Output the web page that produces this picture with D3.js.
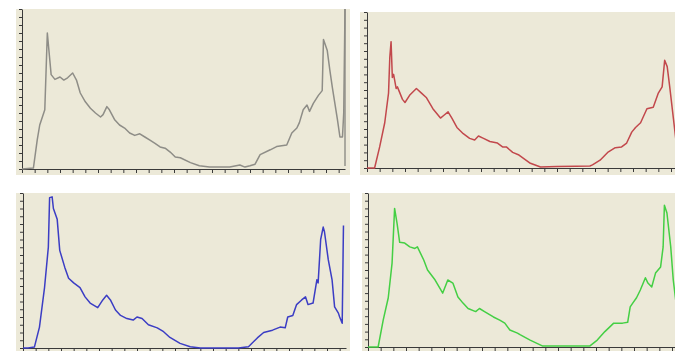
<!DOCTYPE html>
<html>
<head>
<meta charset="utf-8">
<script src="https://cdn.jsdelivr.net/npm/d3@7"></script>
<style>
  html, body { margin: 0; padding: 0; background: #fff; }
  svg { display: block; }
</style>
</head>
<body>
<svg id="chart" width="675" height="351"></svg>
<script>
// histogram samples: [bin, relative count]
const grayHist = [
  [0, 0], [9, 0.006], [12, 0.18], [14, 0.275], [18, 0.37], [20, 0.85], [23, 0.59], [26, 0.56],
  [30, 0.575], [33, 0.556], [36, 0.57], [40, 0.6], [43, 0.556], [46, 0.475], [50, 0.42],
  [54, 0.38], [58, 0.35], [62, 0.325], [64, 0.34], [67, 0.39], [69, 0.37], [73, 0.31],
  [77, 0.275], [81, 0.256], [85, 0.225], [89, 0.21], [93, 0.22], [97, 0.2], [101, 0.18],
  [105, 0.16], [109, 0.138], [113, 0.13], [117, 0.106], [121, 0.075], [125, 0.07],
  [133, 0.04], [140, 0.02], [148, 0.012], [156, 0.012], [164, 0.012], [172, 0.025],
  [176, 0.012], [180, 0.02], [184, 0.03], [188, 0.09], [196, 0.12], [201, 0.14], [209, 0.15],
  [213, 0.225], [217, 0.256], [219, 0.29], [222, 0.37], [225, 0.4], [227, 0.36], [230, 0.41],
  [234, 0.46], [237, 0.49], [238, 0.81], [241, 0.74], [243, 0.62], [245, 0.51], [249, 0.31],
  [251, 0.2], [253, 0.2], [254, 0.35], [255, 1.0]
];
const redHist = [
  [0, 0], [6, 0], [10, 0.135], [14, 0.29], [17, 0.48], [18, 0.71], [19, 0.81], [20, 0.58],
  [21, 0.6], [23, 0.51], [24, 0.52], [28, 0.44], [30, 0.42], [34, 0.47], [39, 0.51],
  [43, 0.48], [47, 0.45], [52, 0.38], [58, 0.32], [61, 0.34], [64, 0.36], [67, 0.32],
  [71, 0.26], [76, 0.22], [81, 0.19], [85, 0.18], [88, 0.205], [92, 0.19], [97, 0.17],
  [103, 0.16], [107, 0.135], [110, 0.135], [115, 0.1], [120, 0.083], [129, 0.03],
  [137, 0.006], [150, 0.01], [165, 0.012], [176, 0.013], [178, 0.02], [184, 0.05], [190, 0.1],
  [196, 0.13], [201, 0.135], [205, 0.16], [209, 0.23], [212, 0.26], [216, 0.29], [221, 0.38],
  [226, 0.39], [230, 0.48], [233, 0.52], [235, 0.69], [237, 0.65], [239, 0.52], [242, 0.31],
  [245, 0.1]
];
const blueHist = [
  [0, 0], [4, 0], [9, 0.006], [13, 0.135], [17, 0.39], [20, 0.65], [21, 0.97], [23, 0.975],
  [24, 0.9], [27, 0.83], [29, 0.63], [33, 0.52], [36, 0.45], [40, 0.42], [45, 0.39],
  [49, 0.33], [53, 0.29], [59, 0.26], [63, 0.31], [66, 0.34], [69, 0.31], [73, 0.245],
  [77, 0.21], [82, 0.19], [87, 0.18], [90, 0.2], [94, 0.19], [99, 0.15], [106, 0.13],
  [111, 0.105], [116, 0.068], [124, 0.03], [132, 0.008], [140, 0], [170, 0], [178, 0.008],
  [185, 0.065], [190, 0.1], [197, 0.115], [203, 0.135], [207, 0.13], [209, 0.2], [213, 0.21],
  [216, 0.28], [220, 0.31], [223, 0.33], [225, 0.28], [229, 0.29], [232, 0.44], [233, 0.42],
  [235, 0.7], [237, 0.78], [238, 0.75], [241, 0.57], [244, 0.44], [246, 0.265], [249, 0.225],
  [250, 0.2], [252, 0.16], [253, 0.79]
];
const greenHist = [
  [0, 0], [8, 0], [12, 0.175], [16, 0.32], [19, 0.545], [21, 0.9], [23, 0.8], [25, 0.68],
  [29, 0.675], [33, 0.65], [37, 0.64], [39, 0.65], [44, 0.565], [47, 0.5], [53, 0.435],
  [59, 0.35], [63, 0.435], [67, 0.415], [71, 0.325], [75, 0.285], [79, 0.25], [85, 0.23],
  [88, 0.25], [92, 0.23], [99, 0.195], [104, 0.175], [108, 0.155], [112, 0.11], [118, 0.09],
  [120, 0.08], [128, 0.045], [138, 0.006], [175, 0.006], [181, 0.045], [187, 0.1],
  [194, 0.155], [201, 0.155], [205, 0.16], [207, 0.26], [209, 0.285], [212, 0.32],
  [215, 0.37], [219, 0.45], [221, 0.415], [224, 0.39], [227, 0.48], [231, 0.52], [233, 0.65],
  [234, 0.92], [236, 0.87], [239, 0.65], [241, 0.435], [243, 0.3]
];

const binDomain = [0, 255];
const xTickStep = 10;
const yTickCount = 20;

// panel boxes: background rect + plot area
const panels = [
  {data: grayHist,  color: "#8e8d87", bg: [16, 9, 334, 166],  plot: {x0: 22, x1: 345, y0: 169, y1: 9},   rightRule: true},
  {data: redHist,   color: "#c2484c", bg: [360, 12, 320, 163], plot: {x0: 367, x1: 690, y0: 168, y1: 12}, rightRule: false},
  {data: blueHist,  color: "#3b3dc4", bg: [16, 193, 334, 158], plot: {x0: 23, x1: 346, y0: 348, y1: 193}, rightRule: false},
  {data: greenHist, color: "#44cf44", bg: [362, 193, 318, 158], plot: {x0: 368, x1: 691, y0: 347, y1: 193}, rightRule: false}
];

const svg = d3.select("#chart");

panels.forEach((p, i) => {
  const g = svg.append("g");
  const [bx, by, bw, bh] = p.bg;

  g.append("rect")
    .attr("x", bx).attr("y", by)
    .attr("width", bw).attr("height", bh)
    .attr("fill", "#ece9d8");

  const x = d3.scaleLinear().domain(binDomain).range([p.plot.x0, p.plot.x1]);
  const y = d3.scaleLinear().domain([0, 1]).range([p.plot.y0, p.plot.y1]);

  const clipId = "clip" + i;
  g.append("clipPath").attr("id", clipId)
    .append("rect")
    .attr("x", p.plot.x0).attr("y", p.plot.y1)
    .attr("width", p.plot.x1 - p.plot.x0 + 1)
    .attr("height", p.plot.y0 - p.plot.y1 + 1);

  const xAxis = d3.axisBottom(x)
    .tickValues(d3.range(binDomain[0], binDomain[1] + 1, xTickStep))
    .tickSize(4).tickSizeOuter(0).tickFormat("");
  const yAxis = d3.axisLeft(y)
    .ticks(yTickCount)
    .tickSize(3).tickSizeOuter(0).tickFormat("");

  g.append("g")
    .attr("transform", `translate(0,${p.plot.y0})`)
    .call(xAxis)
    .call(a => a.selectAll("path, line").attr("stroke", "#3a3a3a"));
  g.append("g")
    .attr("transform", `translate(${p.plot.x0},0)`)
    .call(yAxis)
    .call(a => a.selectAll("path, line").attr("stroke", "#3a3a3a"));

  if (p.rightRule) {
    g.append("line")
      .attr("x1", x(binDomain[1])).attr("x2", x(binDomain[1]))
      .attr("y1", p.plot.y1).attr("y2", p.plot.y0 - 3)
      .attr("stroke", p.color).attr("stroke-width", 1.4);
  }

  const line = d3.line()
    .x(d => x(d[0]))
    .y(d => y(d[1]));

  g.append("path")
    .datum(p.data)
    .attr("clip-path", `url(#${clipId})`)
    .attr("fill", "none")
    .attr("stroke", p.color)
    .attr("stroke-width", 1.5)
    .attr("stroke-linejoin", "round")
    .attr("d", line);
});
</script>
</body>
</html>
